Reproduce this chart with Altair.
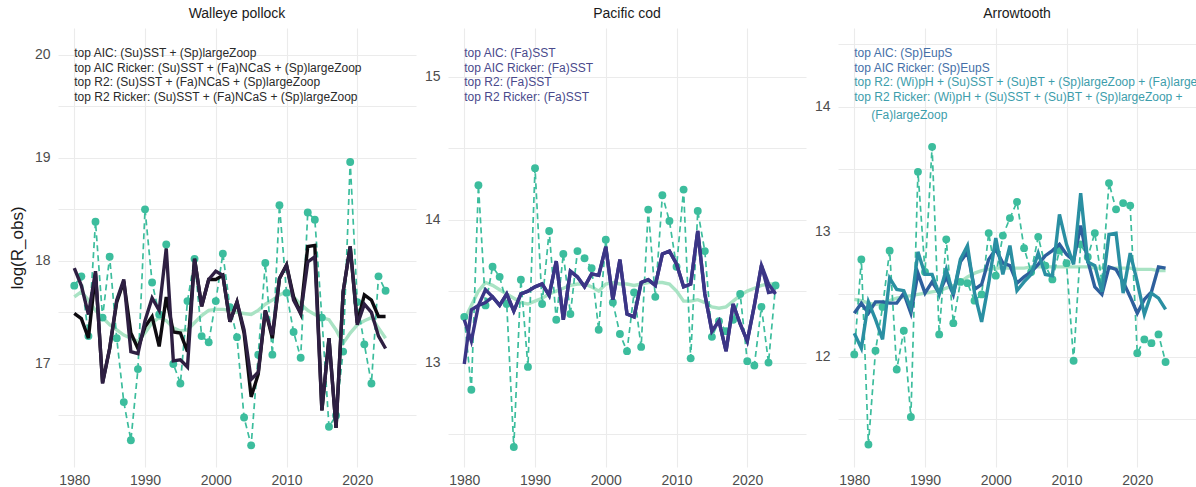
import altair as alt
import pandas as pd

years = list(range(1980, 2025))

# ---------------- Walleye pollock ----------------
pollock_obs = [17.76, 17.85, 17.27, 18.38, 17.45, 18.04, 17.25, 16.63, 16.26, 16.95,
               18.50, 17.79, 17.48, 18.16, 17.00, 16.81, 17.61, 18.02, 17.27, 17.21,
               17.61, 18.07, 17.55, 17.26, 16.48, 16.21, 17.09, 17.98, 17.09, 18.54,
               17.69, 17.31, 17.06, 18.47, 18.40, 17.45, 16.39, 16.50, 17.12, 18.96,
               17.60, 17.19, 16.81, 17.85, 17.71]
pollock_smooth = [17.65, 17.70, 17.62, 17.52, 17.45, 17.38, 17.33, 17.28, 17.25, 17.22,
                  17.30, 17.40, 17.45, 17.42, 17.35, 17.32, 17.33, 17.40, 17.47, 17.52,
                  17.53, 17.53, 17.52, 17.50, 17.49, 17.48, 17.52, 17.58, 17.62, 17.67,
                  17.70, 17.65, 17.58, 17.52, 17.48, 17.45, 17.43, 17.33, 17.20, 17.30,
                  17.38, 17.42, 17.45, 17.35, 17.25]
pollock_aic = [17.49, 17.44, 17.25, 17.88, 16.82, 17.15, 17.60, 17.80, 17.30, 17.15,
               17.36, 17.46, 17.17, 17.65, 17.31, 17.30, 17.12, 18.02, 17.56, 17.82,
               17.82, 17.86, 17.41, 17.60, 17.30, 16.68, 16.90, 17.52, 17.25, 17.83,
               17.96, 17.65, 17.49, 18.14, 18.15, 16.55, 17.25, 16.38, 17.70, 18.14,
               17.40, 17.67, 17.62, 17.46, 17.46]
pollock_r2 = [17.93, 17.76, 17.48, 17.90, 16.81, 17.15, 17.62, 17.82, 17.12, 17.10,
              17.42, 17.64, 17.52, 18.12, 17.03, 17.04, 16.97, 18.02, 17.56, 17.82,
              17.90, 17.86, 17.41, 17.60, 17.33, 16.85, 16.92, 17.52, 17.28, 17.83,
              17.96, 17.62, 17.49, 17.99, 18.04, 16.55, 17.25, 16.38, 17.70, 18.14,
              17.38, 17.58, 17.50, 17.27, 17.15]

# ---------------- Pacific cod ----------------
cod_obs = [13.32, 12.81, 14.24, 13.40, 13.67, 13.60, 13.41, 12.41, 13.58, 12.97,
           14.36, 13.41, 13.92, 13.30, 13.76, 13.34, 13.78, 13.73, 13.66, 13.23,
           13.86, 13.42, 13.20, 13.08, 13.49, 13.11, 14.07, 13.46, 14.17, 13.99,
           13.67, 14.21, 13.03, 14.06, 13.78, 13.18, 13.29, 13.22, 13.30, 13.48,
           13.01, 12.98, 13.39, 13.00, 13.54]
cod_smooth = [13.30, 13.40, 13.50, 13.56, 13.54, 13.51, 13.48, 13.45, 13.42, 13.41,
              13.43, 13.45, 13.48, 13.50, 13.52, 13.54, 13.55, 13.55, 13.53, 13.50,
              13.55, 13.56, 13.55, 13.55, 13.54, 13.55, 13.56, 13.56, 13.56, 13.55,
              13.50, 13.43, 13.43, 13.44, 13.42, 13.39, 13.38, 13.39, 13.43, 13.47,
              13.50, 13.52, 13.54, 13.55, 13.55]
cod_aic = [12.99, 13.37, 13.40, 13.51, 13.46, 13.40, 13.48, 13.36, 13.48, 13.50,
           13.53, 13.55, 13.47, 13.71, 13.30, 13.64, 13.60, 13.53, 13.62, 13.61,
           13.81, 13.44, 13.72, 13.34, 13.32, 13.56, 13.58, 13.54, 13.76, 13.78,
           13.69, 13.53, 13.55, 13.92, 13.48, 13.22, 13.29, 13.08, 13.41, 13.27,
           13.15, 13.40, 13.68, 13.49, 13.50]
cod_r2 = [13.30, 13.15, 13.40, 13.42, 13.46, 13.40, 13.48, 13.36, 13.48, 13.50,
          13.53, 13.55, 13.47, 13.71, 13.30, 13.64, 13.60, 13.53, 13.62, 13.61,
          13.81, 13.44, 13.72, 13.34, 13.32, 13.56, 13.58, 13.54, 13.76, 13.78,
          13.69, 13.53, 13.55, 13.92, 13.48, 13.22, 13.29, 13.08, 13.41, 13.27,
          13.15, 13.40, 13.68, 13.55, 13.48]

# ---------------- Arrowtooth ----------------
arrow_obs = [12.02, 12.78, 11.30, 12.05, 12.40, 12.85, 11.90, 12.21, 11.52, 13.48,
             12.68, 13.68, 12.18, 12.94, 12.27, 12.60, 12.59, 12.45, 12.50, 12.99,
             12.65, 12.97, 13.11, 13.24, 12.87, 12.68, 12.96, 12.73, 12.62, 12.85,
             12.75, 11.97, 12.90, 12.80, 12.99, 12.60, 13.39, 13.18, 13.23, 13.21,
             12.03, 12.14, 12.11, 12.18, 11.96]
arrow_smooth = [12.46, 12.45, 12.43, 12.42, 12.43, 12.45, 12.47, 12.48, 12.49, 12.50,
                12.51, 12.52, 12.53, 12.55, 12.57, 12.60, 12.64, 12.67, 12.69, 12.70,
                12.71, 12.71, 12.71, 12.71, 12.71, 12.72, 12.72, 12.72, 12.72, 12.72,
                12.72, 12.72, 12.72, 12.72, 12.71, 12.71, 12.71, 12.71, 12.71, 12.71,
                12.70, 12.70, 12.70, 12.69, 12.69]
arrow_aic = [12.35, 12.43, 12.35, 12.44, 12.44, 12.43, 12.43, 12.51, 12.35, 12.67,
             12.51, 12.60, 12.51, 12.64, 12.50, 12.76, 12.84, 12.54, 12.58, 12.78,
             12.86, 12.75, 12.73, 12.59, 12.64, 12.68, 12.74, 12.81, 12.85, 12.90,
             12.82, 12.77, 13.05, 12.77, 12.56, 12.50, 12.72, 12.70, 12.60, 12.48,
             12.35, 12.46, 12.52, 12.72, 12.71]
arrow_r2 = [12.19, 12.07, 12.44, 12.30, 12.14, 12.63, 12.54, 12.53, 12.39, 12.84,
            12.66, 12.66, 12.50, 12.70, 12.50, 12.78, 12.89, 12.51, 12.28, 12.59,
            12.95, 12.66, 12.89, 12.53, 12.60, 12.66, 12.83, 12.66, 12.65, 13.14,
            12.90, 12.74, 13.31, 12.76, 12.73, 12.52, 12.98, 12.99, 12.51, 12.83,
            12.60, 12.34, 12.51, 12.47, 12.38]

pollock_notes = ["top AIC: (Su)SST + (Sp)largeZoop",
                 "top AIC Ricker: (Su)SST + (Fa)NCaS + (Sp)largeZoop",
                 "top R2: (Su)SST + (Fa)NCaS + (Sp)largeZoop",
                 "top R2 Ricker: (Su)SST + (Fa)NCaS + (Sp)largeZoop"]
cod_notes = ["top AIC: (Fa)SST", "top AIC Ricker: (Fa)SST",
             "top R2: (Fa)SST", "top R2 Ricker: (Fa)SST"]
arrow_notes = ["top AIC: (Sp)EupS", "top AIC Ricker: (Sp)EupS",
               "top R2: (Wi)pH + (Su)SST + (Su)BT + (Sp)largeZoop + (Fa)largeZoop",
               "top R2 Ricker: (Wi)pH + (Su)SST + (Su)BT + (Sp)largeZoop +",
               "(Fa)largeZoop"]

FONT = "Liberation Sans"
OBS_COLOR = "#3CBD9D"
SMOOTH_COLOR = "#A9E3C4"
X_DOMAIN = [1977.7, 2028.3]
X_TICKS = list(range(1980, 2030, 5))
PANEL_W = 358
PANEL_H = 439


def panel(title, obs, smooth, aic, r2, aic_color, r2_color, y_domain, y_ticks,
          notes, note_colors, note_dx, y_title):
    df = pd.DataFrame({"year": years, "obs": obs, "smooth": smooth,
                       "aic": aic, "r2": r2})
    x = alt.X("year:Q",
              scale=alt.Scale(domain=X_DOMAIN, nice=False, zero=False),
              axis=alt.Axis(values=X_TICKS, title=None,
                            labelExpr="datum.value % 10 === 0 ? format(datum.value, 'd') : ''"))
    yaxis = alt.Axis(values=y_ticks, title=y_title,
                     labelExpr="datum.value % 1 === 0 ? format(datum.value, 'd') : ''")
    yscale = alt.Scale(domain=y_domain, nice=False, zero=False)

    def y(field):
        return alt.Y(f"{field}:Q", scale=yscale, axis=yaxis)

    base = alt.Chart(df)
    smooth_l = base.mark_line(color=SMOOTH_COLOR, strokeWidth=3.4).encode(x=x, y=y("smooth"))
    obs_l = base.mark_line(color=OBS_COLOR, strokeWidth=1.7, strokeDash=[6, 4]).encode(x=x, y=y("obs"))
    obs_p = base.mark_point(color=OBS_COLOR, filled=True, opacity=1, size=62).encode(x=x, y=y("obs"))
    aic_l = base.mark_line(color=aic_color, strokeWidth=3.4).encode(x=x, y=y("aic"))
    r2_l = base.mark_line(color=r2_color, strokeWidth=3.4).encode(x=x, y=y("r2"))

    layers = [smooth_l, obs_l, obs_p, aic_l, r2_l]
    line_y = [25, 39.5, 54, 68.5, 87]
    for i, txt in enumerate(notes):
        t = alt.Chart(pd.DataFrame({"t": [txt]})).mark_text(
            align="left", baseline="middle", fontSize=12, font=FONT,
            color=note_colors[i], clip=True, dx=note_dx[i]
        ).encode(x=alt.datum(1980), y=alt.value(line_y[i]), text="t:N")
        layers.append(t)

    return alt.layer(*layers).properties(
        width=PANEL_W, height=PANEL_H,
        title=alt.TitleParams(title, fontSize=14, font=FONT, fontWeight="normal",
                              color="#1A1A1A", offset=7, anchor="middle"))


p1 = panel("Walleye pollock", pollock_obs, pollock_smooth, pollock_aic, pollock_r2,
           "#0E0B10", "#2E1F42", [16.0, 20.26],
           [16.5, 17, 17.5, 18, 18.5, 19, 19.5, 20],
           pollock_notes, ["#2A2A2A"] * 4, [0, 0, 0, 0], "log(R_obs)")
p2 = panel("Pacific cod", cod_obs, cod_smooth, cod_aic, cod_r2,
           "#3B3586", "#3B3586", [12.27, 15.34],
           [12.5, 13, 13.5, 14, 14.5, 15],
           cod_notes, ["#4A4A8C"] * 4, [0, 0, 0, 0], None)
p3 = panel("Arrowtooth", arrow_obs, arrow_smooth, arrow_aic, arrow_r2,
           "#2E5F9D", "#2A8FA2", [11.12, 14.63],
           [11.5, 12, 12.5, 13, 13.5, 14, 14.5],
           arrow_notes, ["#4570A8", "#4570A8", "#3C9DAB", "#3C9DAB", "#3C9DAB"],
           [0, 0, 0, 0, 17], None)

chart = alt.hconcat(p1, p2, p3, spacing=32, bounds="flush").properties(
    padding={"left": 8, "top": 7, "right": 0, "bottom": 0}
).configure_view(stroke=None).configure_axis(
    grid=True, gridColor="#EBEBEB", gridWidth=1.1, domain=False, ticks=False,
    labelFont=FONT, labelFontSize=14, labelColor="#4D4D4D", labelPadding=8,
    labelOverlap=False,
    titleFont=FONT, titleFontSize=17, titleColor="#1A1A1A", titleFontWeight="normal",
    titlePadding=8
).configure_axisX(labelPadding=6)

chart.save("out.html", embed_options={"renderer": "svg", "actions": False})
